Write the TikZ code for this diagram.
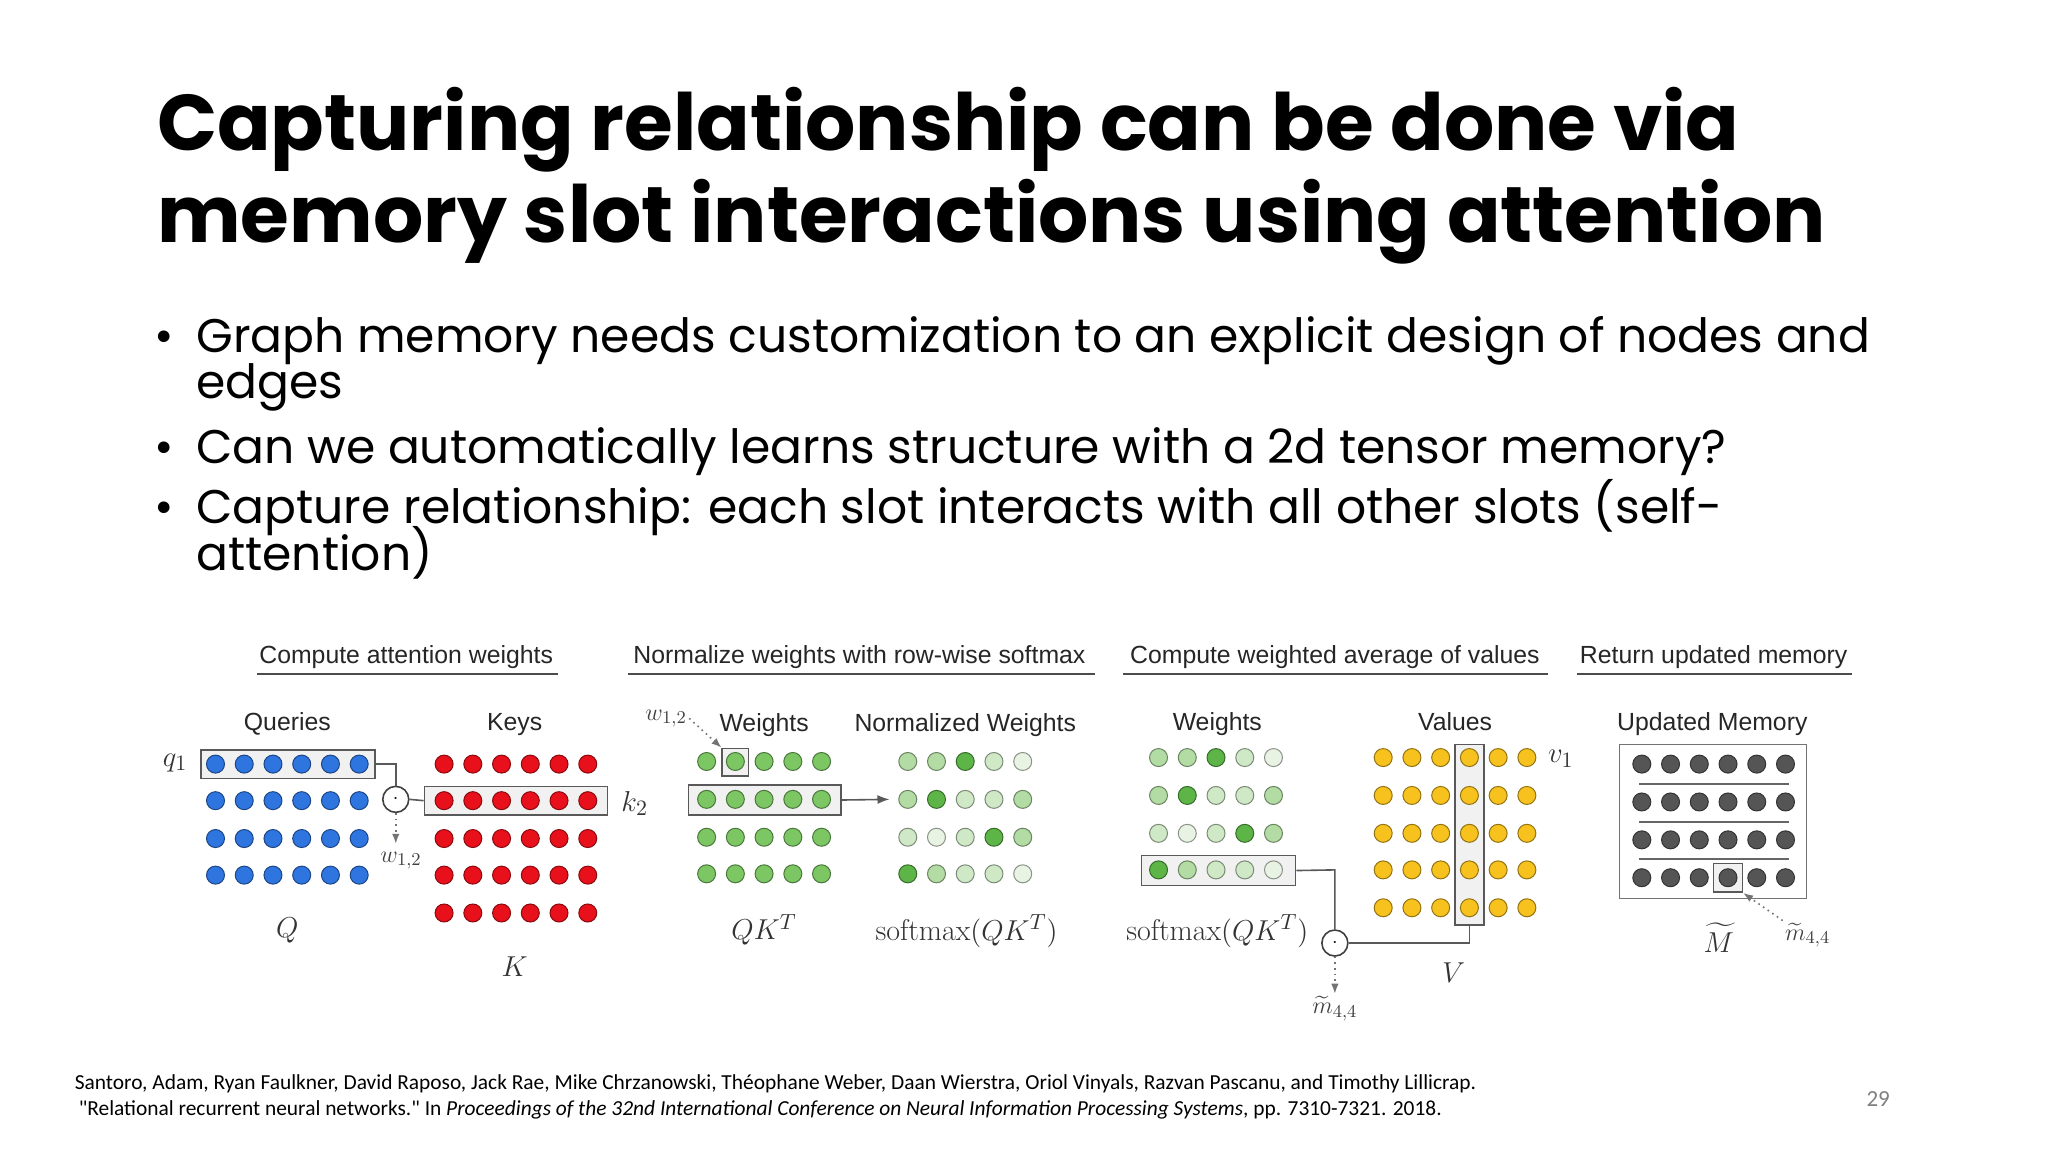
\documentclass[tikz,border=0pt]{standalone}
\usepackage{fontspec}
\usepackage{amsmath}
\setmainfont{Poppins}
\newfontfamily\arialf{Liberation Sans}
\newfontfamily\calib{Carlito}
\newfontfamily\lmrm{Latin Modern Roman}
\usetikzlibrary{arrows.meta}
\definecolor{qblue}{HTML}{2F75E0}
\definecolor{kred}{HTML}{E8101A}
\definecolor{vyel}{HTML}{F7C21E}
\definecolor{gbase}{HTML}{7CC763}
\definecolor{gdark}{HTML}{5DB447}
\definecolor{gl1}{HTML}{B2DCA3}
\definecolor{gl2}{HTML}{CFE8C6}
\definecolor{gl3}{HTML}{E8F3E3}
\definecolor{mgray}{HTML}{555555}
\definecolor{boxfill}{HTML}{F1F1F1}
\newcommand{\smx}{\text{\lmrm softmax}}
\tikzset{
  dotq/.style={circle,inner sep=0pt,minimum size=9pt,draw=#1!60!black,fill=#1,line width=0.5pt},
  selbox/.style={draw=black!65,fill=boxfill,line width=0.8pt},
  conn/.style={draw=black!65,line width=0.8pt},
  dotarrow/.style={draw=black!55,dotted,line width=0.8pt,-{Latex[length=5pt]}},
  odot/.style={circle,draw=black!75,fill=white,line width=0.8pt,minimum size=13pt,inner sep=0pt},
  head/.style={font=\arialf\fontsize{12.4}{14}\selectfont,text=black!85,anchor=base},
  lab/.style={font=\arialf\fontsize{12.4}{14}\selectfont,text=black!85,anchor=base},
  mlab/.style={font=\fontsize{15}{17}\selectfont,text=black!80},
  slab/.style={font=\fontsize{12.5}{14}\selectfont,text=black!75,inner sep=1pt},
}
\begin{document}
\begin{tikzpicture}[x=0.65306pt,y=-0.65306pt]
\useasboundingbox (0,0) rectangle (1568,882);
\fill[white] (0,0) rectangle (1568,882);
% title
\node[anchor=base west,inner sep=0pt,font=\bfseries\fontsize{39.5}{44}\selectfont] (t1) at (120,115) {Capturing relationship can be done via};
\node[anchor=base west,inner sep=0pt,font=\bfseries\fontsize{39.5}{44}\selectfont] (t2) at (120,186) {memory slot interactions using attention};
% bullets
\tikzset{bul/.style={anchor=base west,inner sep=0pt,font=\fontsize{23.6}{26}\selectfont}}
\node[bul] (b1) at (150,270) {Graph memory needs customization to an explicit design of nodes and};
\node[bul] (b1b) at (150,305) {edges};
\node[bul] (b2) at (150,355) {Can we automatically learns structure with a 2d tensor memory?};
\node[bul] (b3) at (150,401) {Capture relationship: each slot interacts with all other slots (self-};
\node[bul] (b3b) at (150,437) {attention)};
\foreach \yy/\n in {270/a,355/b,401/c}{\node[bul] (bu\n) at (118,\yy) {•};}
% headings
\node[head] (h1) at (311,508) {Compute attention weights};
\node[head] (h2) at (658,508) {Normalize weights with row-wise softmax};
\node[head] (h3) at (1022,508) {Compute weighted average of values};
\node[head] (h4) at (1312,508) {Return updated memory};
\foreach \a/\b in {197/427,481/838,860/1185,1207/1418}{\draw[black!70,line width=1.3pt] (\a,516) -- (\b,516);}
% labels
\node[lab] at (220,559) {Queries};
\node[lab] at (394,559) {Keys};
\node[lab] at (585,560) {Weights};
\node[lab] at (739,560) {Normalized Weights};
\node[lab] at (932,559) {Weights};
\node[lab] at (1114,559) {Values};
\node[lab] at (1311,559) {Updated Memory};
% boxes (behind dots)
\node[selbox,minimum width=133*0.65306pt,minimum height=22*0.65306pt,inner sep=0pt] (q1box) at (220.5,585) {};
\node[selbox,minimum width=140*0.65306pt,minimum height=22*0.65306pt,inner sep=0pt] (k2box) at (395,613) {};
% Q
\foreach \y in {585,613,642,670}{\foreach \c in {0,...,5}{\node[dotq=qblue] at (165+22*\c,\y) {};}}
% K
\foreach \y in {585,613,642,670,699}{\foreach \c in {0,...,5}{\node[dotq=kred] at (340+22*\c,\y) {};}}
\node[mlab] (q1l) at (134,584) {$q_1$};
\node[mlab] (k2l) at (486,615) {$k_2$};
\node[odot] (o1) at (303,612) {$\cdot$};
\coordinate (o1c) at (303,585);
\draw[conn] (q1box.east) -- (o1c) -- (o1.north);
\draw[conn] (o1.east) -- (k2box.west);
\node[slab] (w12a) at (307,659) {$w_{1,2}$};
\draw[dotarrow] (o1.south) -- (303,646);
\node[mlab] (Ql) at (220,712) {$Q$};
\node[mlab] (Kl) at (394,740) {$K$};
% Weights QK^T
\node[selbox,minimum width=20*0.65306pt,minimum height=21*0.65306pt,inner sep=0pt] (wbox) at (563,583.5) {};
\node[selbox,minimum width=117*0.65306pt,minimum height=23*0.65306pt,inner sep=0pt] (r2box) at (585.5,612.5) {};
\foreach \y in {583,612,641,669}{\foreach \c in {0,...,4}{\node[dotq=gbase] at (541+22*\c,\y) {};}}
\node[slab] (w12b) at (510,550) {$w_{1,2}$};
\draw[dotarrow] (w12b.east) -- (wbox.north west);
\coordinate (nwin) at (681,612);
\draw[conn,-{Latex[length=6pt]}] (r2box.east) -- (nwin);
\node[mlab] (qkt) at (585,712) {$QK^T$};
% normalized
\def\shadecol#1{\ifcase#1 gdark\or gl1\or gl2\or gl3\fi}
\foreach \y/\row in {583/{1,1,0,2,3},612/{1,0,2,2,1},641/{2,3,2,0,1},669/{0,1,2,2,3}}{
  \foreach \s [count=\c from 0] in \row {\node[dotq=\shadecol{\s}] at (695+22*\c,\y) {};}}
\node[mlab] (smx1) at (740,713) {$\smx(QK^T)$};
% section 3
\node[selbox,minimum width=118*0.65306pt,minimum height=23*0.65306pt,inner sep=0pt] (r4box) at (933,666.5) {};
\foreach \y/\row in {580/{1,1,0,2,3},609/{1,0,2,2,1},638/{2,3,2,0,1},666/{0,1,2,2,3}}{
  \foreach \s [count=\c from 0] in \row {\node[dotq=\shadecol{\s}] at (887+22*\c,\y) {};}}
\node[mlab] (smx2) at (932,713) {$\smx(QK^T)$};
\node[selbox,minimum width=22*0.65306pt,minimum height=138*0.65306pt,inner sep=0pt] (vcol) at (1125,639) {};
\foreach \y in {580,609,638,666,695}{\foreach \c in {0,...,5}{\node[dotq=vyel] at (1059+22*\c,\y) {};}}
\node[mlab] (v1l) at (1195,581) {$v_1$};
\node[mlab] (Vl) at (1113,745) {$V$};
\node[odot] (o2) at (1022,722) {$\cdot$};
\coordinate (c2a) at (1022,666);
\coordinate (c2b) at (1125,722);
\draw[conn] (r4box.east) -- (c2a) -- (o2.north);
\draw[conn] (o2.east) -- (c2b) -- (vcol.south);
\node[slab] (m44a) at (1022,772) {$\widetilde{m}_{4,4}$};
\draw[dotarrow] (o2.south) -- (m44a.north);
% updated memory
\node[draw=black!55,line width=0.8pt,minimum width=143*0.65306pt,minimum height=118*0.65306pt,inner sep=0pt] (mem) at (1311.5,629) {};
\node[selbox,minimum width=22*0.65306pt,minimum height=22*0.65306pt,inner sep=0pt] (mbox) at (1323,672) {};
\foreach \y in {585,614,643,672}{\foreach \c in {0,...,5}{\node[dotq=mgray] at (1257+22*\c,\y) {};}}
\foreach \y in {600,629,658}{\draw[black!60,line width=1pt] (1255,\y) -- (1370,\y);}
\node[mlab] (Ml) at (1316,718) {$\widetilde{M}$};
\node[slab] (m44b) at (1384,716) {$\widetilde{m}_{4,4}$};
\draw[dotarrow] (m44b.north west) -- (mbox.south east);
% footnote
\node[anchor=base west,inner sep=0pt,font=\calib\fontsize{10.7}{12}\selectfont] (fn1) at (57,834) {Santoro, Adam, Ryan Faulkner, David Raposo, Jack Rae, Mike Chrzanowski, Théophane Weber, Daan Wierstra, Oriol Vinyals, Razvan Pascanu, and Timothy Lillicrap.};
\node[anchor=base west,inner sep=0pt,font=\calib\fontsize{10.7}{12}\selectfont] (fn2) at (60,854) {"Relational recurrent neural networks." In \textit{Proceedings of the 32nd International Conference on Neural Information Processing Systems}, pp. 7310-7321. 2018.};
\node[anchor=base,inner sep=0pt,font=\calib\fontsize{11.5}{12}\selectfont,text=black!50] (pg) at (1438,847) {29};
\end{tikzpicture}
\end{document}
